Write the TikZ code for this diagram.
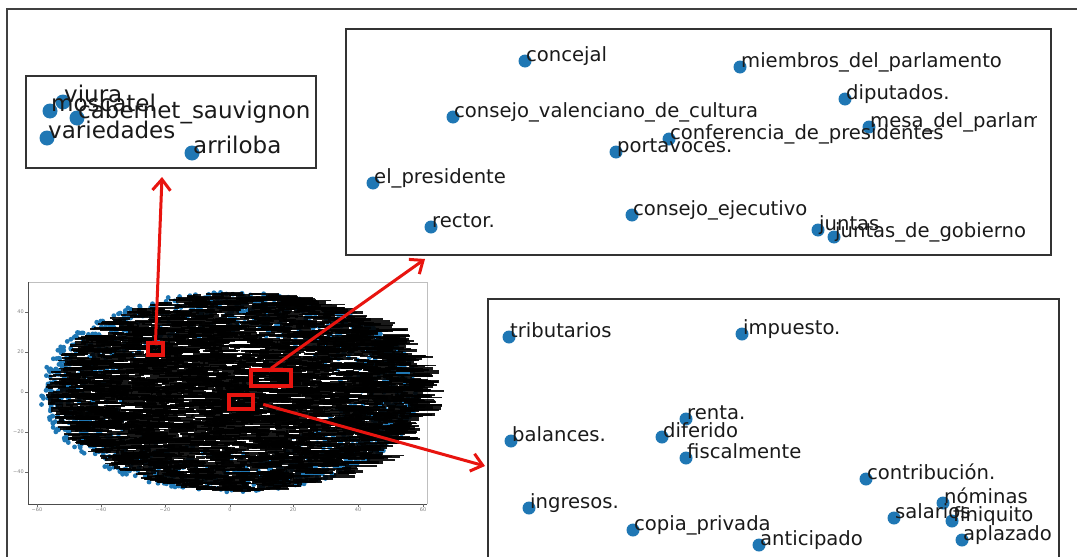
\documentclass[tikz,border=0pt]{standalone}
\usepackage{fontspec}
\setmainfont{DejaVu Sans}
\usetikzlibrary{arrows.meta}
\definecolor{mplblue}{HTML}{1F77B4}
\definecolor{redmark}{HTML}{E8140F}
\definecolor{txt}{HTML}{1A1A1A}
\tikzset{
  panel/.style={draw=black!80, line width=1.3pt},
  wdot/.style={circle, fill=mplblue, inner sep=0pt, minimum size=15pt},
  sdot/.style={circle, fill=mplblue, inner sep=0pt, minimum size=13pt},
  wlbl/.style={anchor=base west, inner sep=0pt, xshift=1pt, text=txt, font=\fontsize{23}{26}\selectfont},
  slbl/.style={anchor=base west, inner sep=0pt, xshift=1pt, text=txt, font=\fontsize{19.6}{23}\selectfont},
  redsq/.style={draw=redmark, line width=3.2pt, inner sep=0pt},
  redarrow/.style={draw=redmark, line width=3pt, -{Straight Barb[length=11pt,width=18pt,line width=3pt]}},
  ticklbl/.style={inner sep=0pt, text=black!50, font=\fontsize{5}{6}\selectfont},
}
\begin{document}
\begin{tikzpicture}[x=1pt,y=-1pt]
\useasboundingbox (0,0) rectangle (1077,557);
\fill[white] (0,0) rectangle (1077,557);
% outer frame
\draw[black!75, line width=2pt] (7,557) -- (7,9) -- (1077,9);

% ---------------- overview plot ----------------
\draw[black!25, line width=0.6pt] (28,282) -- (427,282) -- (427,504);
\draw[black!70, line width=0.8pt] (28,282) -- (28,504) -- (427,504);
\foreach \v/\yy in {40/312,20/352,0/392,-20/432,-40/472}{
  \draw[black!60, line width=0.5pt] (28,\yy) -- (25,\yy);
  \node[ticklbl, anchor=east] (yt\yy) at (24,\yy) {\ifnum\v<0 −\number-\v\else\v\fi};
}
\foreach \v/\xx in {-60/37,-40/101,-20/165,0/230,20/293,40/358,60/423}{
  \draw[black!60, line width=0.5pt] (\xx,504) -- (\xx,507);
  \node[ticklbl, anchor=north] (xt\xx) at (\xx,508) {\ifnum\v<0 −\number-\v\else\v\fi};
}
\pgfmathsetseed{4242}
\foreach \i in {1,...,1400}{
  \pgfmathsetmacro{\ang}{rnd*360}
  \pgfmathsetmacro{\rr}{0.55+0.45*sqrt(rnd)}
  \pgfmathsetmacro{\px}{230+190*\rr*cos(\ang)}
  \pgfmathsetmacro{\py}{392+100*\rr*sin(\ang)}
  \fill[mplblue] (\px,\py) circle[radius=2.4pt];
}
\foreach \i in {1,...,4200}{
  \pgfmathsetmacro{\ang}{rnd*360}
  \pgfmathsetmacro{\rr}{sqrt(rnd)}
  \pgfmathsetmacro{\px}{232+186*\rr*cos(\ang)}
  \pgfmathsetmacro{\py}{392+99*\rr*sin(\ang)}
  \pgfmathsetmacro{\len}{5+rnd*28}
  \pgfmathsetmacro{\lw}{1.4+rnd*1.4}
  \draw[black, line width=\lw pt, opacity=0.9] (\px,\py) -- ++(\len,0);
}
% red squares
\node[redsq, minimum width=15pt, minimum height=12pt] (sq1) at (155.5,349) {};
\node[redsq, minimum width=40pt, minimum height=16pt] (sq2) at (271,378) {};
\node[redsq, minimum width=24pt, minimum height=14pt] (sq3) at (241,402) {};

% ---------------- wine panel ----------------
\draw[panel] (26,76) rectangle (316,168);
\node[wdot] (d-mos) at (50,111) {};
\node[wdot] (d-viu) at (63,102) {};
\node[wdot] (d-cab) at (77,118) {};
\node[wdot] (d-var) at (47,138) {};
\node[wdot] (d-arr) at (192,153) {};
\node[wlbl] (t-viu) at (d-viu.center) {viura};
\node[wlbl] (t-mos) at (d-mos.center) {moscatel};
\node[wlbl] (t-cab) at (d-cab.center) {cabernet\_sauvignon};
\node[wlbl] (t-var) at (d-var.center) {variedades};
\node[wlbl] (t-arr) at (d-arr.center) {arriloba};

% ---------------- council panel ----------------
\draw[panel] (346,29) rectangle (1051,255);
\node[sdot] (d-con) at (525,61) {};
\node[sdot] (d-mie) at (740,67) {};
\node[sdot] (d-dip) at (845,99) {};
\node[sdot] (d-cvc) at (453,117) {};
\node[sdot] (d-mes) at (869,127) {};
\node[sdot] (d-cdp) at (669,139) {};
\node[sdot] (d-por) at (616,152) {};
\node[sdot] (d-elp) at (373,183) {};
\node[sdot] (d-rec) at (431,227) {};
\node[sdot] (d-cej) at (632,215) {};
\node[sdot] (d-jun) at (818,230) {};
\node[sdot] (d-jdg) at (834,237) {};
\node[slbl] (t-con) at (d-con.center) {concejal};
\node[slbl] (t-mie) at (d-mie.center) {miembros\_del\_parlamento};
\node[slbl] (t-dip) at (d-dip.center) {diputados.};
\node[slbl] (t-cvc) at (d-cvc.center) {consejo\_valenciano\_de\_cultura};
\begin{scope}
\clip (346,29) rectangle (1036,255);
\node[slbl] (t-mes) at (d-mes.center) {mesa\_del\_parlamento};
\end{scope}
\node[slbl] (t-cdp) at (d-cdp.center) {conferencia\_de\_presidentes};
\node[slbl] (t-por) at (d-por.center) {portavoces.};
\node[slbl] (t-elp) at (d-elp.center) {el\_presidente};
\node[slbl] (t-rec) at (d-rec.center) {rector.};
\node[slbl] (t-cej) at (d-cej.center) {consejo\_ejecutivo};
\node[slbl] (t-jun) at (d-jun.center) {juntas};
\node[slbl] (t-jdg) at (d-jdg.center) {juntas\_de\_gobierno};

% ---------------- tax panel ----------------
\draw[panel] (488,560) -- (488,299) -- (1059,299) -- (1059,560);
\node[sdot] (d-tri) at (509,337) {};
\node[sdot] (d-imp) at (742,334) {};
\node[sdot] (d-ren) at (686,419) {};
\node[sdot] (d-dif) at (662,437) {};
\node[sdot] (d-bal) at (511,441) {};
\node[sdot] (d-fis) at (686,458) {};
\node[sdot] (d-ctr) at (866,479) {};
\node[sdot] (d-nom) at (943,503) {};
\node[sdot] (d-sal) at (894,518) {};
\node[sdot] (d-fin) at (952,521) {};
\node[sdot] (d-apl) at (962,540) {};
\node[sdot] (d-ing) at (529,508) {};
\node[sdot] (d-cop) at (633,530) {};
\node[sdot] (d-ant) at (759,545) {};
\node[slbl] (t-tri) at (d-tri.center) {tributarios};
\node[slbl] (t-imp) at (d-imp.center) {impuesto.};
\node[slbl] (t-ren) at (d-ren.center) {renta.};
\node[slbl] (t-dif) at (d-dif.center) {diferido};
\node[slbl] (t-bal) at (d-bal.center) {balances.};
\node[slbl] (t-fis) at (d-fis.center) {fiscalmente};
\node[slbl] (t-ctr) at (d-ctr.center) {contribución.};
\node[slbl] (t-nom) at (d-nom.center) {nóminas};
\node[slbl] (t-sal) at (d-sal.center) {salarios};
\node[slbl] (t-fin) at (d-fin.center) {finiquito};
\node[slbl] (t-apl) at (d-apl.center) {aplazado};
\node[slbl] (t-ing) at (d-ing.center) {ingresos.};
\node[slbl] (t-cop) at (d-cop.center) {copia\_privada};
\node[slbl] (t-ant) at (d-ant.center) {anticipado};

% ---------------- arrows ----------------
\coordinate (e1) at (162,177);
\coordinate (e2) at (425,259);
\coordinate (e3) at (485,466);
\draw[redarrow] (sq1.north) -- (e1);
\draw[redarrow] (sq2.north) -- (e2);
\draw[redarrow, shorten <=9pt] (sq3.east) -- (e3);
\end{tikzpicture}
\end{document}
